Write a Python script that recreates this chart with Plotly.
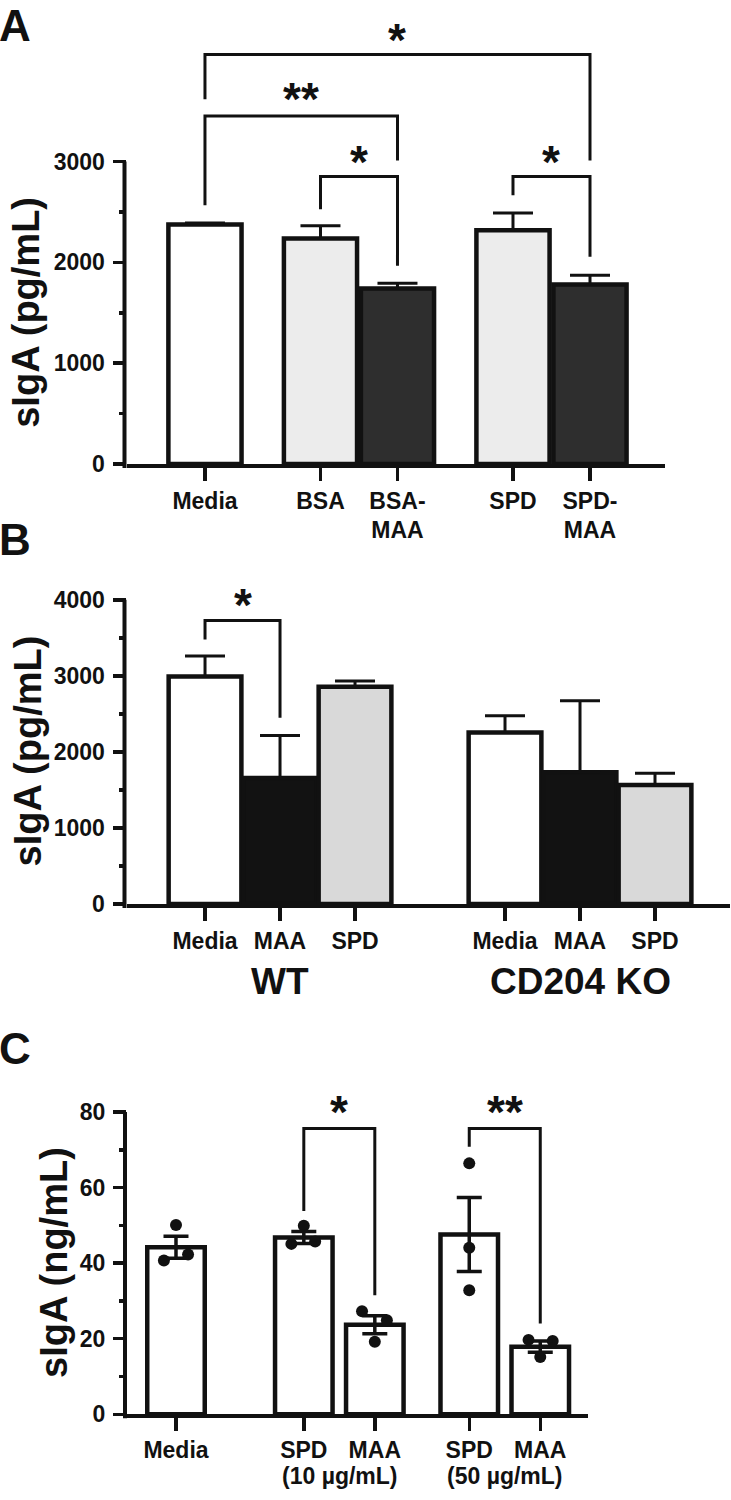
import plotly.graph_objects as go

W, H = 731, 1500

# ---------------- data ----------------
a_categories = ["Media", "BSA", "BSA-<br>MAA", "SPD", "SPD-<br>MAA"]
a_means = [2375, 2237, 1741, 2320, 1780]
a_errors = [15, 127, 52, 170, 93]
a_y_ticks = [0, 1000, 2000, 3000]
a_y_minor = [500, 1500, 2500]

b_categories = ["Media", "MAA", "SPD", "Media", "MAA", "SPD"]
b_groups = ["WT", "CD204 KO"]
b_means = [2990, 1656, 2855, 2255, 1734, 1565]
b_errors = [270, 561, 78, 222, 939, 156]
b_y_ticks = [0, 1000, 2000, 3000, 4000]
b_y_minor = [500, 1500, 2500, 3500]

c_categories = ["Media", "SPD", "MAA", "SPD", "MAA"]
c_concentrations = ["(10 µg/mL)", "(50 µg/mL)"]
c_means = [44.2, 46.8, 23.7, 47.6, 17.9]
c_sems = [2.9, 1.6, 2.4, 9.8, 1.5]
c_points = [[50.1, 40.7, 42.3], [49.9, 45.1, 45.7], [27.3, 24.9, 19.2],
            [66.4, 44.1, 32.8], [19.7, 19.4, 15.2]]
c_y_ticks = [0, 20, 40, 60, 80]
c_y_minor = [10, 30, 50, 70]

# significance comparisons (index i, index j, label)
a_sig = [(0, 4, "*"), (0, 2, "**"), (1, 2, "*"), (3, 4, "*")]
b_sig = [(0, 1, "*")]
c_sig = [(1, 2, "*"), (3, 4, "**")]

# ---------------- layout constants (positions / styles) ----------------
a_x = [0, 1.5, 2.5, 4, 5]
b_x = [0, 1, 2, 4, 5, 6]
c_x = [0, 1.8, 2.8, 4.13, 5.13]
c_jitter = [[0, -0.17, 0.17], [0, -0.175, 0.16], [-0.18, 0.17, 0],
            [0, 0, 0], [-0.165, 0.175, 0]]
# bracket geometry in data units: (level, left leg end, right leg end, label y)
a_br = [(4062, 3619, 3010, 4259), (3452, 2567, 3010, 3669),
        (2852, 2528, 1967, 3049), (2852, 2665, 2056, 3049)]
b_br = [(3726, 3479, 2450, 4000)]
c_br = [(75.6, 53.8, 31.5, 81.3), (75.6, 70.8, 24.05, 81.3)]

a_colors = ["#ffffff", "#ececec", "#2e2e2e", "#ececec", "#2e2e2e"]
b_colors = ["#ffffff", "#121212", "#d9d9d9", "#ffffff", "#121212", "#d9d9d9"]
INK = "#111111"
FONT = "Liberation Sans, Arial, Helvetica, sans-serif"

# panel geometry in pixels: x-left, x-right, y of value 0, y of plot top, data top
PANELS = {
    "A": dict(xl=126.5, xr=665, y0=468, yt=20, vtop=4406.6, xrange=[-1.019, 5.974], vaxis=3000),
    "B": dict(xl=126.5, xr=730, y0=912, yt=585, vtop=4260.6, xrange=[-1.047, 7.0], vaxis=4000),
    "C": dict(xl=127, xr=588.4, y0=1426.7, yt=1095, vtop=87.0, xrange=[-0.69, 5.808], vaxis=80),
}


def py(p):
    return 1 - p / H


fig = go.Figure()
annotations = []
shapes = []


def axis_pair(key, n, yt, minor):
    g = PANELS[key]
    sx = "" if n == 1 else str(n)
    xa = dict(domain=[g["xl"] / W, g["xr"] / W], range=g["xrange"], anchor="y" + sx,
              showgrid=False, zeroline=False, showline=True, linewidth=4, linecolor=INK,
              ticks="outside", ticklen=13, tickwidth=3.5, tickcolor=INK,
              tickfont=dict(family=FONT, size=23, color=INK, weight="bold"), fixedrange=True)
    ya = dict(domain=[py(g["y0"]), py(g["yt"])], range=[0, g["vtop"]], anchor="x" + sx,
              showgrid=False, zeroline=False, showline=False,
              ticks="outside", ticklen=13, tickwidth=3.5, tickcolor=INK,
              tickmode="array", tickvals=yt, ticklabelstandoff=3,
              tickfont=dict(family=FONT, size=23, color=INK, weight="bold"),
              minor=dict(tickmode="array", tickvals=minor, ticks="outside", ticklen=7,
                         tickwidth=3.5, tickcolor=INK, showgrid=False),
              fixedrange=True)
    # visible y-axis line only up to the top tick
    frac = g["vaxis"] / g["vtop"]
    ytop_paper = py(g["y0"]) + frac * (py(g["yt"]) - py(g["y0"]))
    shapes.append(dict(type="line", xref="paper", yref="paper",
                       x0=(g["xl"] - 2) / W, x1=(g["xl"] - 2) / W,
                       y0=py(g["y0"] + 4), y1=ytop_paper,
                       line=dict(color=INK, width=4)))
    return xa, ya


xa1, ya1 = axis_pair("A", 1, a_y_ticks, a_y_minor)
xa2, ya2 = axis_pair("B", 2, b_y_ticks, b_y_minor)
xa3, ya3 = axis_pair("C", 3, c_y_ticks, c_y_minor)

xa1.update(tickmode="array", tickvals=a_x, ticktext=a_categories)
xa2.update(tickmode="array", tickvals=b_x, ticktext=b_categories)
xa3.update(tickmode="array", tickvals=c_x, ticktext=c_categories, ticklabelstandoff=-1)

# ---------------- Panel A ----------------
fig.add_trace(go.Bar(
    x=a_x, y=a_means, width=0.95, xaxis="x", yaxis="y",
    marker=dict(color=a_colors, line=dict(color=INK, width=4.5)),
    error_y=dict(type="data", array=a_errors, arrayminus=[0] * len(a_errors),
                 symmetric=False, color=INK, thickness=3, width=20),
    showlegend=False, hoverinfo="skip"))

# ---------------- Panel B ----------------
fig.add_trace(go.Bar(
    x=b_x, y=b_means, width=0.97, xaxis="x2", yaxis="y2",
    marker=dict(color=b_colors, line=dict(color=INK, width=4.5)),
    error_y=dict(type="data", array=b_errors, arrayminus=[0] * len(b_errors),
                 symmetric=False, color=INK, thickness=3, width=20),
    showlegend=False, hoverinfo="skip"))

# ---------------- Panel C ----------------
fig.add_trace(go.Bar(
    x=c_x, y=c_means, width=0.81, xaxis="x3", yaxis="y3",
    marker=dict(color="#ffffff", line=dict(color=INK, width=4.5)),
    showlegend=False, hoverinfo="skip"))
px_, py_ = [], []
for xi, jit, pts in zip(c_x, c_jitter, c_points):
    for j, v in zip(jit, pts):
        px_.append(xi + j)
        py_.append(v)
fig.add_trace(go.Scatter(
    x=px_, y=py_, mode="markers", xaxis="x3", yaxis="y3",
    marker=dict(size=12, color=INK), showlegend=False, hoverinfo="skip"))
fig.add_trace(go.Scatter(
    x=c_x, y=c_means, mode="markers", xaxis="x3", yaxis="y3",
    marker=dict(size=1, color="rgba(0,0,0,0)"),
    error_y=dict(type="data", array=c_sems, color=INK, thickness=3.5, width=12.5),
    showlegend=False, hoverinfo="skip"))


# ---------------- significance brackets ----------------
def brackets(xs, sig, geo, sx):
    for (i, j, lab), (lvl, le, re, ly) in zip(sig, geo):
        fig.add_trace(go.Scatter(
            x=[xs[i], xs[i], xs[j], xs[j]], y=[le, lvl, lvl, re], mode="lines",
            xaxis="x" + sx, yaxis="y" + sx, line=dict(color=INK, width=3),
            showlegend=False, hoverinfo="skip"))
        annotations.append(dict(
            x=(xs[i] + xs[j]) / 2, y=ly, xref="x" + sx, yref="y" + sx, text=lab,
            showarrow=False, xanchor="center", yanchor="middle", yshift=-5,
            font=dict(family=FONT, size=46, color=INK, weight="bold")))


brackets(a_x, a_sig, a_br, "")
brackets(b_x, b_sig, b_br, "2")
brackets(c_x, c_sig, c_br, "3")

# concentration lines of C labels
for k, t in enumerate(c_concentrations):
    xm = (c_x[1 + 2 * k] + c_x[2 + 2 * k]) / 2
    annotations.append(dict(x=xm, y=py(1489), xref="x3", yref="paper", text=t,
                            showarrow=False, xanchor="center", yanchor="middle",
                            borderpad=0,
                            font=dict(family=FONT, size=23, color=INK, weight="bold")))
# group labels of B
for k, t in enumerate(b_groups):
    xm = (b_x[3 * k] + b_x[3 * k + 2]) / 2
    annotations.append(dict(x=xm, y=py(990), xref="x2", yref="paper", text=t,
                            showarrow=False, xanchor="center", yanchor="middle",
                            font=dict(family=FONT, size=37, color=INK, weight="bold")))

# y-axis titles
for txt, xc, yc in [("sIgA (pg/mL)", 26, 315.5), ("sIgA (pg/mL)", 28, 758),
                    ("sIgA (ng/mL)", 54, 1274)]:
    annotations.append(dict(x=xc / W, y=py(yc), xref="paper", yref="paper", text=txt,
                            textangle=-90, showarrow=False, xanchor="center", yanchor="middle",
                            font=dict(family=FONT, size=38, color=INK, weight="bold")))

# panel letters
for txt, yt in [("A", 0), ("B", 518), ("C", 1032)]:
    annotations.append(dict(x=0, y=py(yt), xref="paper", yref="paper", text=txt,
                            showarrow=False, xanchor="left", yanchor="top", xshift=-2,
                            borderpad=0,
                            font=dict(family=FONT, size=44, color=INK, weight="bold")))

fig.update_layout(
    width=W, height=H, margin=dict(l=0, r=0, t=0, b=0),
    paper_bgcolor="white", plot_bgcolor="rgba(0,0,0,0)",
    xaxis=xa1, yaxis=ya1, xaxis2=xa2, yaxis2=ya2, xaxis3=xa3, yaxis3=ya3,
    annotations=annotations, shapes=shapes, bargap=0, showlegend=False,
)

fig.write_html("out.html", config={"displayModeBar": False, "staticPlot": True},
               post_script="document.body.style.margin='0px';")
